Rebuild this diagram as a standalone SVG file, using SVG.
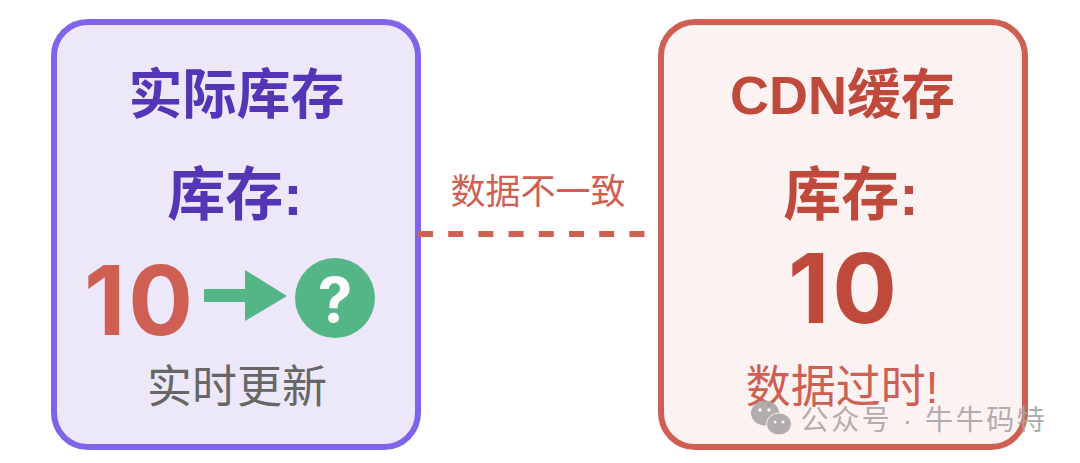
<svg xmlns="http://www.w3.org/2000/svg" width="1080" height="463" viewBox="0 0 1080 463">
<style>
text{font-family:"Liberation Sans","Noto Sans CJK SC",sans-serif;text-anchor:middle}
.b{font-weight:700}
.n{font-family:Inter,"Liberation Sans",sans-serif;letter-spacing:3px}
.p{fill:#5335b5}.r{fill:#cf5f53}.d{fill:#bf4a3c}
</style>
<rect width="1080" height="463" fill="#fff"/>
<g id="node-actual">
<rect x="54" y="22" width="364" height="425" rx="34" fill="#ede7fa" stroke="#7f63e8" stroke-width="6"/>
<text class="b p" x="236.500" y="114" font-size="54">实际库存</text>
<text class="b p" x="235" y="215" font-size="58">库存:</text>
<text class="b r n" x="140" y="335" font-size="96">10</text>
<polygon points="204,289 245,289 245,270 287,296 245,321 245,302 204,302" fill="#54b686"/>
<circle cx="335" cy="298" r="40" fill="#54b686"/>
<text class="b" x="335" y="322" font-size="62" fill="#fff" style="font-family:Inter,sans-serif">?</text>
<text x="237" y="403" font-size="45" fill="#666">实时更新</text>
</g>
<g id="node-cdn">
<rect x="661" y="22" width="364" height="425" rx="34" fill="#fcf2f1" stroke="#cf5f53" stroke-width="6"/>
<text class="b d" x="842.500" y="114" font-size="54">CDN缓存</text>
<text class="b d" x="851" y="215" font-size="58">库存:</text>
<text class="b d n" x="844" y="323" font-size="96">10</text>
<text class="r" x="842" y="403" font-size="45">数据过时!</text>
</g>
<g id="connectors">
<line x1="418" y1="234" x2="647" y2="234" stroke="#cf5f53" stroke-width="6" stroke-dasharray="15 15.200"/>
<text class="r" x="538" y="204" font-size="35">数据不一致</text>
</g>
<g id="watermark" fill="#a8a6a5" opacity=".9">
<ellipse cx="765" cy="413" rx="14" ry="12.500"/>
<ellipse cx="779" cy="424" rx="12.500" ry="11" stroke="#fcf2f1"/>
<circle cx="760" cy="410" r="1.700" fill="#fff"/><circle cx="769" cy="410" r="1.700" fill="#fff"/>
<circle cx="775" cy="422" r="1.500" fill="#fff"/><circle cx="783" cy="422" r="1.500" fill="#fff"/>
<text x="924" y="430" font-size="28" letter-spacing="2.600">公众号 · 牛牛码特</text>
</g>
</svg>
